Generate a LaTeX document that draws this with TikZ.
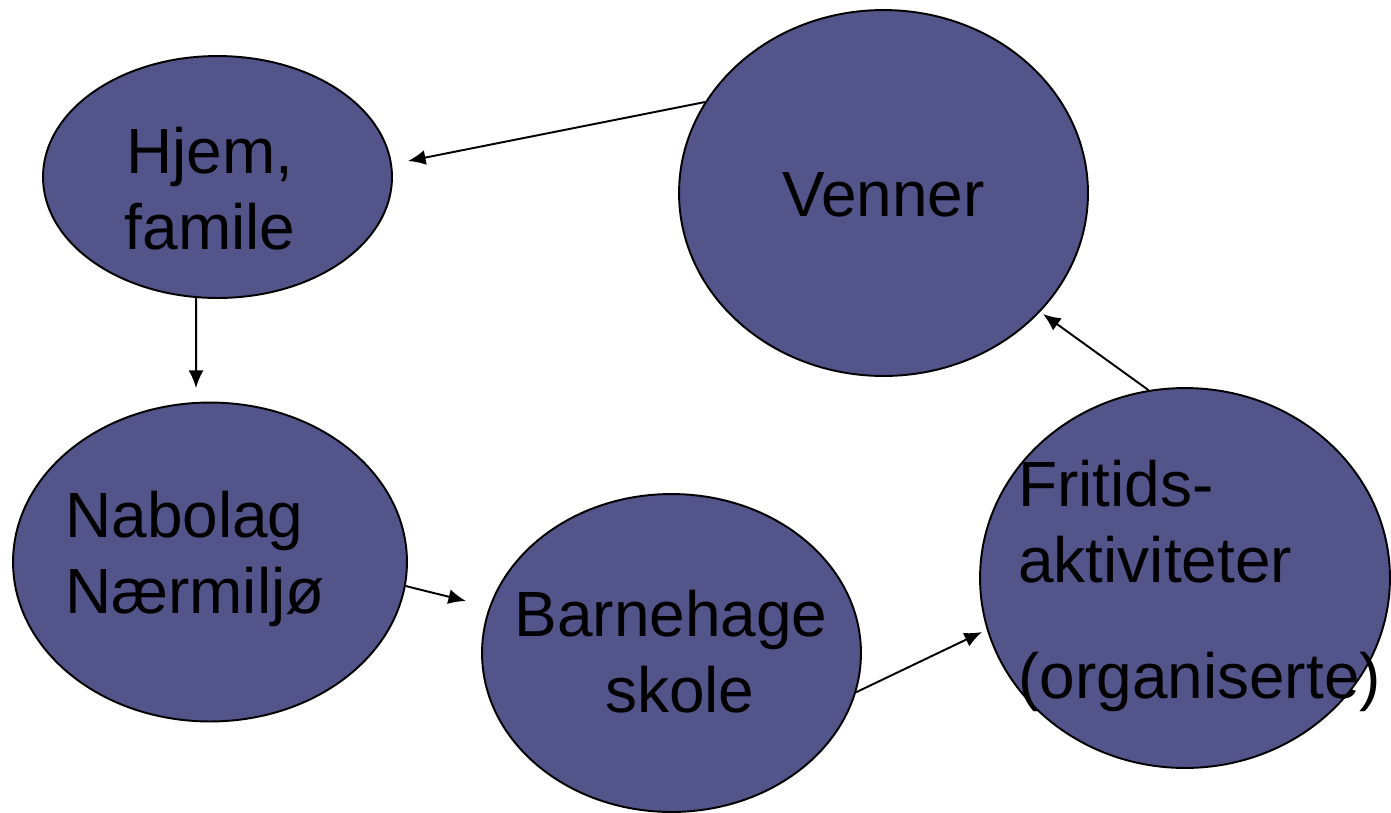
\documentclass[tikz,border=0pt]{standalone}
\usepackage{fontspec}
\setmainfont{Liberation Sans}
\usetikzlibrary{shapes, arrows.meta}
\definecolor{arenablue}{RGB}{83,84,138}

\begin{document}
\begin{tikzpicture}[x=0.02cm, y=-0.02cm, >={Latex[length=10pt, width=8.5pt]},
  arena/.style={shape=ellipse, draw, line width=1.1pt, fill=arenablue, inner sep=0pt},
  arenatext/.style={font=\fontsize{36.4}{42.7}\selectfont, inner sep=0pt},
  link/.style={->, line width=1.1pt}]
  \useasboundingbox (0,0) rectangle (1391,812);

  % the five arenas
  \node[arena, minimum width=6.98cm, minimum height=4.84cm] (hjem) at (217.5,177) {};
  \node[arena, minimum width=8.18cm, minimum height=7.32cm] (venner) at (883.5,193) {};
  \node[arena, minimum width=7.88cm, minimum height=6.38cm] (nabolag) at (210,562) {};
  \node[arena, minimum width=7.58cm, minimum height=6.36cm] (barnehage) at (671.5,653) {};
  \node[arena, minimum width=8.2cm, minimum height=7.6cm] (fritid) at (1185,578) {};

  % base anchor = baseline of the last line
  \node[arenatext, align=center, anchor=base] (hjem-txt) at (210,249) {Hjem,\\famile};
  \node[arenatext, anchor=base] (venner-txt) at (883.5,216) {Venner};
  \node[arenatext, align=left, anchor=base west] (nabolag-txt) at (65,613) {Nabolag\\Nærmiljø};
  \node[arenatext, align=center, anchor=base] (barnehage-txt) at (671,712) {Barnehage\\\ skole};
  \node[arenatext, align=left, anchor=base west] (fritid-txt) at (1018,698)
    {Fritids-\\aktiviteter\\[0.82cm](organiserte)};

  % arrow tips stop short of the next arena
  \coordinate (hjem-in) at (408,161);
  \coordinate (nabolag-in) at (196,388);
  \coordinate (barnehage-in) at (466,601);
  \coordinate (fritid-in) at (982,632);
  \coordinate (venner-in) at (1043,314);

  \draw[link] (venner.153) -- (hjem-in);
  \draw[link] (hjem.260) -- (nabolag-in);
  \draw[link] (nabolag.353) -- (barnehage-in);
  \draw[link] (barnehage.348) -- (fritid-in);
  \draw[link] (fritid.101) -- (venner-in);
\end{tikzpicture}
\end{document}
